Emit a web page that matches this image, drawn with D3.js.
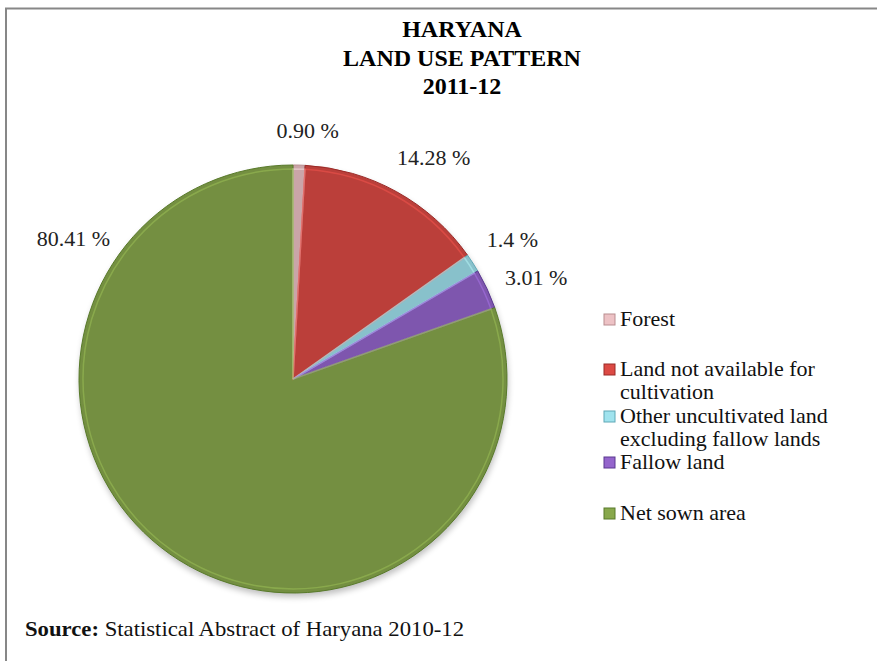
<!DOCTYPE html>
<html>
<head>
<meta charset="utf-8">
<script src="https://cdn.jsdelivr.net/npm/d3@7"></script>
<style>
  html, body { margin: 0; padding: 0; background: #fff; }
  svg { display: block; }
</style>
</head>
<body>
<svg id="chart" width="877" height="661" font-family="'Liberation Serif', 'Times New Roman', serif"></svg>
<script>
// ---- data ----
const categories = ["Forest", "Land not available for cultivation", "Other uncultivated land excluding fallow lands", "Fallow land", "Net sown area"];
const values = [0.90, 14.28, 1.4, 3.01, 80.41];
const valueLabels = ["0.90 %", "14.28 %", "1.4 %", "3.01 %", "80.41 %"];
const legendLines = [["Forest"], ["Land not available for", "cultivation"], ["Other uncultivated land", "excluding fallow lands"], ["Fallow land"], ["Net sown area"]];
const titleLines = ["HARYANA", "LAND USE PATTERN", "2011-12"];
const sourceBold = "Source:";
const sourceText = " Statistical  Abstract of Haryana 2010-12";

// ---- styles / layout ----
const colors = ["#edc2c5", "#dc4a44", "#a0e3ee", "#9465cc", "#88a84c"];
const edgeColors = ["#b98d90", "#9a2a27", "#5fa8b6", "#5a3890", "#587a2a"];
const W = 877, H = 661;
const cx = 293, cy = 379, R = 214;
const labelR = 235;
const labelNudge = [[8, -6], [27, -8], [22, -5], [30, 5], [-84, -325]];

const svg = d3.select("#chart");

// frame
svg.append("path")
  .attr("d", `M6,${H} L6,8.5 L${W},8.5`)
  .attr("fill", "none").attr("stroke", "#878787").attr("stroke-width", 2);

// title
const title = svg.append("text").attr("text-anchor", "middle")
  .attr("font-weight", "bold").attr("font-size", 24).attr("fill", "#000");
titleLines.forEach((t, i) => {
  title.append("tspan").attr("x", 462).attr("y", 37 + i * 28.5).text(t);
});

// defs for shading
const defs = svg.append("defs");
const blur = defs.append("filter").attr("id", "shadow").attr("x", "-20%").attr("y", "-20%").attr("width", "140%").attr("height", "140%");
blur.append("feGaussianBlur").attr("stdDeviation", 3);
colors.forEach((c, i) => {
  const g = defs.append("radialGradient").attr("id", "g" + i)
    .attr("gradientUnits", "userSpaceOnUse")
    .attr("cx", cx).attr("cy", cy).attr("r", R);
  g.append("stop").attr("offset", "0%").attr("stop-color", c);
  g.append("stop").attr("offset", "92%").attr("stop-color", c);
  g.append("stop").attr("offset", "96.5%").attr("stop-color", d3.color(c).brighter(0.3));
  g.append("stop").attr("offset", "100%").attr("stop-color", d3.color(c).darker(0.45));
});

const pie = d3.pie().sort(null).value(d => d);
const arcs = pie(values);
const arc = d3.arc().innerRadius(0).outerRadius(R);

// soft shadow under pie
svg.append("circle").attr("cx", cx + 1).attr("cy", cy + 4).attr("r", R)
  .attr("fill", "#000").attr("opacity", 0.25).attr("filter", "url(#shadow)");

const gPie = svg.append("g").attr("transform", `translate(${cx},${cy})`);
gPie.selectAll("path.slice").data(arcs).join("path")
  .attr("class", "slice")
  .attr("d", arc)
  .attr("fill", (d, i) => `url(#g${i})`)
  .attr("stroke", (d, i) => edgeColors[i])
  .attr("stroke-width", 1)
  .attr("stroke-linejoin", "round");

// inner highlight along radial edges (bevel)
const arcIn = d3.arc().innerRadius(0).outerRadius(R - 4);
gPie.selectAll("path.bevel").data(arcs).join("path")
  .attr("class", "bevel")
  .attr("d", arcIn)
  .attr("fill", "none")
  .attr("stroke", (d, i) => d3.color(colors[i]).brighter(0.5))
  .attr("stroke-opacity", 0.45)
  .attr("stroke-width", 1.5);

// value labels
svg.selectAll("text.val").data(arcs).join("text")
  .attr("class", "val")
  .attr("text-anchor", "middle")
  .attr("font-size", 22)
  .attr("fill", "#222")
  .attr("x", (d, i) => cx + labelR * Math.sin((d.startAngle + d.endAngle) / 2) + labelNudge[i][0])
  .attr("y", (d, i) => cy - labelR * Math.cos((d.startAngle + d.endAngle) / 2) + labelNudge[i][1])
  .text((d, i) => valueLabels[i]);

// legend
const legendY = [326, 376, 423, 469, 520];
const lg = svg.append("g");
categories.forEach((c, i) => {
  lg.append("rect").attr("x", 604).attr("y", legendY[i] - 12).attr("width", 11).attr("height", 11)
    .attr("fill", colors[i]).attr("stroke", edgeColors[i]).attr("stroke-width", 1);
  const t = lg.append("text").attr("font-size", 22).attr("fill", "#111");
  legendLines[i].forEach((ln, j) => {
    t.append("tspan").attr("x", 620).attr("y", legendY[i] + j * 23).text(ln);
  });
});

// source
const src = svg.append("text").attr("x", 25).attr("y", 636).attr("font-size", 22).attr("fill", "#111")
  .attr("textLength", 439).attr("lengthAdjust", "spacingAndGlyphs");
src.append("tspan").attr("font-weight", "bold").text(sourceBold);
src.append("tspan").text(sourceText);
</script>
</body>
</html>
